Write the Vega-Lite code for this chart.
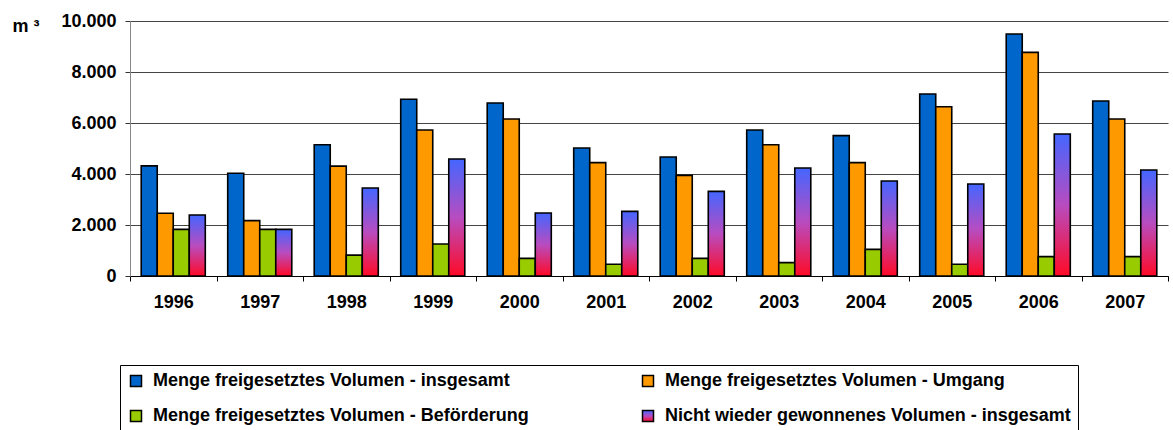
{
  "$schema": "https://vega.github.io/schema/vega-lite/v6.json",
  "width": 1038,
  "height": 255,
  "autosize": {"type": "none"},
  "padding": {"left": 130, "top": 21, "right": 5, "bottom": 154},
  "background": "white",
  "config": {
    "font": "Liberation Sans",
    "view": {"stroke": null}
  },
  "data": {
    "values": [
      {"year": "1996", "series": "Menge freigesetztes Volumen - insgesamt", "value": 4320},
      {"year": "1996", "series": "Menge freigesetztes Volumen - Umgang", "value": 2460},
      {"year": "1996", "series": "Menge freigesetztes Volumen - Beförderung", "value": 1830},
      {"year": "1996", "series": "Nicht wieder gewonnenes Volumen - insgesamt", "value": 2390},
      {"year": "1997", "series": "Menge freigesetztes Volumen - insgesamt", "value": 4030},
      {"year": "1997", "series": "Menge freigesetztes Volumen - Umgang", "value": 2170},
      {"year": "1997", "series": "Menge freigesetztes Volumen - Beförderung", "value": 1830},
      {"year": "1997", "series": "Nicht wieder gewonnenes Volumen - insgesamt", "value": 1830},
      {"year": "1998", "series": "Menge freigesetztes Volumen - insgesamt", "value": 5150},
      {"year": "1998", "series": "Menge freigesetztes Volumen - Umgang", "value": 4310},
      {"year": "1998", "series": "Menge freigesetztes Volumen - Beförderung", "value": 820},
      {"year": "1998", "series": "Nicht wieder gewonnenes Volumen - insgesamt", "value": 3450},
      {"year": "1999", "series": "Menge freigesetztes Volumen - insgesamt", "value": 6930},
      {"year": "1999", "series": "Menge freigesetztes Volumen - Umgang", "value": 5725},
      {"year": "1999", "series": "Menge freigesetztes Volumen - Beförderung", "value": 1255},
      {"year": "1999", "series": "Nicht wieder gewonnenes Volumen - insgesamt", "value": 4590},
      {"year": "2000", "series": "Menge freigesetztes Volumen - insgesamt", "value": 6785},
      {"year": "2000", "series": "Menge freigesetztes Volumen - Umgang", "value": 6157},
      {"year": "2000", "series": "Menge freigesetztes Volumen - Beförderung", "value": 690},
      {"year": "2000", "series": "Nicht wieder gewonnenes Volumen - insgesamt", "value": 2470},
      {"year": "2001", "series": "Menge freigesetztes Volumen - insgesamt", "value": 5020},
      {"year": "2001", "series": "Menge freigesetztes Volumen - Umgang", "value": 4445},
      {"year": "2001", "series": "Menge freigesetztes Volumen - Beförderung", "value": 460},
      {"year": "2001", "series": "Nicht wieder gewonnenes Volumen - insgesamt", "value": 2535},
      {"year": "2002", "series": "Menge freigesetztes Volumen - insgesamt", "value": 4667},
      {"year": "2002", "series": "Menge freigesetztes Volumen - Umgang", "value": 3948},
      {"year": "2002", "series": "Menge freigesetztes Volumen - Beförderung", "value": 690},
      {"year": "2002", "series": "Nicht wieder gewonnenes Volumen - insgesamt", "value": 3320},
      {"year": "2003", "series": "Menge freigesetztes Volumen - insgesamt", "value": 5725},
      {"year": "2003", "series": "Menge freigesetztes Volumen - Umgang", "value": 5150},
      {"year": "2003", "series": "Menge freigesetztes Volumen - Beförderung", "value": 523},
      {"year": "2003", "series": "Nicht wieder gewonnenes Volumen - insgesamt", "value": 4235},
      {"year": "2004", "series": "Menge freigesetztes Volumen - insgesamt", "value": 5503},
      {"year": "2004", "series": "Menge freigesetztes Volumen - Umgang", "value": 4445},
      {"year": "2004", "series": "Menge freigesetztes Volumen - Beförderung", "value": 1046},
      {"year": "2004", "series": "Nicht wieder gewonnenes Volumen - insgesamt", "value": 3725},
      {"year": "2005", "series": "Menge freigesetztes Volumen - insgesamt", "value": 7137},
      {"year": "2005", "series": "Menge freigesetztes Volumen - Umgang", "value": 6640},
      {"year": "2005", "series": "Menge freigesetztes Volumen - Beförderung", "value": 460},
      {"year": "2005", "series": "Nicht wieder gewonnenes Volumen - insgesamt", "value": 3608},
      {"year": "2006", "series": "Menge freigesetztes Volumen - insgesamt", "value": 9490},
      {"year": "2006", "series": "Menge freigesetztes Volumen - Umgang", "value": 8771},
      {"year": "2006", "series": "Menge freigesetztes Volumen - Beförderung", "value": 758},
      {"year": "2006", "series": "Nicht wieder gewonnenes Volumen - insgesamt", "value": 5569},
      {"year": "2007", "series": "Menge freigesetztes Volumen - insgesamt", "value": 6863},
      {"year": "2007", "series": "Menge freigesetztes Volumen - Umgang", "value": 6157},
      {"year": "2007", "series": "Menge freigesetztes Volumen - Beförderung", "value": 758},
      {"year": "2007", "series": "Nicht wieder gewonnenes Volumen - insgesamt", "value": 4157}
    ]
  },
  "mark": {"type": "bar", "stroke": "black", "strokeWidth": 1.6},
  "encoding": {
    "x": {
      "field": "year",
      "type": "ordinal",
      "scale": {"paddingInner": 0, "paddingOuter": 0},
      "axis": {
        "title": null,
        "labelAngle": 0,
        "labelFont": "Liberation Sans",
        "labelFontSize": 18,
        "labelFontWeight": "bold",
        "labelColor": "black",
        "labelPadding": 12,
        "tickBand": "extent",
        "tickSize": 5,
        "tickColor": "black",
        "domainColor": "black",
        "domainWidth": 1.2,
        "grid": false
      }
    },
    "xOffset": {
      "field": "series",
      "type": "nominal",
      "sort": null,
      "scale": {"paddingInner": 0, "paddingOuter": 0.7}
    },
    "y": {
      "field": "value",
      "type": "quantitative",
      "scale": {"domain": [0, 10000], "nice": false},
      "axis": {
        "title": "m ³",
        "titleAngle": 0,
        "titleAlign": "left",
        "titleBaseline": "alphabetic",
        "titleX": -118,
        "titleY": 10,
        "titleFont": "Liberation Sans",
        "titleFontSize": 18,
        "titleFontWeight": "bold",
        "titleColor": "black",
        "values": [0, 2000, 4000, 6000, 8000, 10000],
        "labelExpr": "replace(format(datum.value, ','), ',', '.')",
        "labelFont": "Liberation Sans",
        "labelFontSize": 18,
        "labelFontWeight": "bold",
        "labelColor": "black",
        "labelPadding": 9,
        "tickSize": 5,
        "tickColor": "#333",
        "domainColor": "#888",
        "gridColor": "#444",
        "gridWidth": 1
      }
    },
    "color": {
      "field": "series",
      "type": "nominal",
      "sort": null,
      "scale": {
        "domain": [
          "Menge freigesetztes Volumen - insgesamt",
          "Menge freigesetztes Volumen - Umgang",
          "Menge freigesetztes Volumen - Beförderung",
          "Nicht wieder gewonnenes Volumen - insgesamt"
        ],
        "range": [
          "#0066cc",
          "#ff9900",
          "#99cc00",
          {"expr": "{gradient: 'linear', x1: 0, y1: 0, x2: 0, y2: 1, stops: [{offset: 0, color: '#4466ff'}, {offset: 0.5, color: '#b84cc0'}, {offset: 1, color: '#ff0a26'}]}"}
        ]
      },
      "legend": {
        "title": null,
        "orient": "none",
        "legendX": -10,
        "legendY": 344,
        "columns": 2,
        "direction": "horizontal",
        "strokeColor": "black",
        "fillColor": "white",
        "padding": 7,
        "symbolType": "square",
        "symbolSize": 121,
        "symbolStrokeColor": "black",
        "symbolStrokeWidth": 1.5,
        "labelFont": "Liberation Sans",
        "labelFontSize": 18,
        "labelFontWeight": "bold",
        "labelColor": "black",
        "labelLimit": 0,
        "labelOffset": 8,
        "columnPadding": 110,
        "rowPadding": 17,
        "encode": {
          "symbols": {
            "update": {
              "stroke": {"value": "black"},
              "strokeWidth": {"value": 1.5},
              "opacity": {"value": 1}
            }
          }
        }
      }
    }
  }
}
